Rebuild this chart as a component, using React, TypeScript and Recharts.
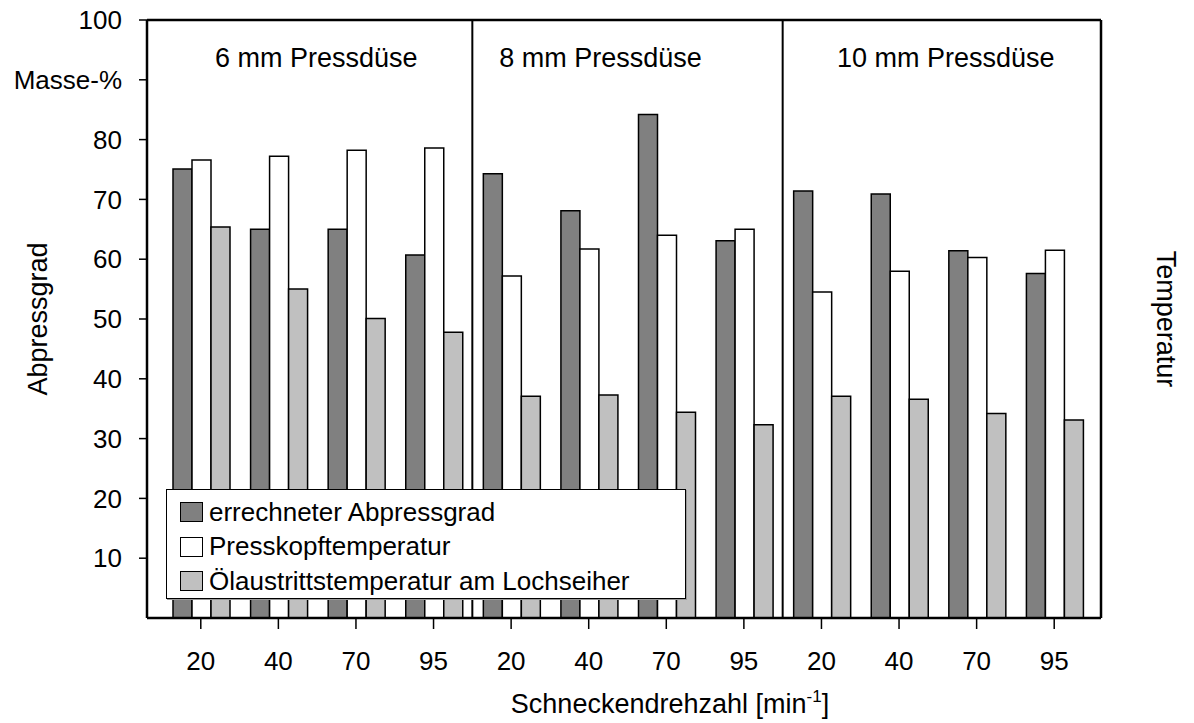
import {
    BarChart, Bar, XAxis, YAxis, Legend, ReferenceLine, ReferenceArea, Label
} from 'recharts';

const FONT = '"Liberation Sans", Arial, Helvetica, sans-serif';

const speeds = ['20', '40', '70', '95'];
const nozzles = ['6 mm Pressdüse', '8 mm Pressdüse', '10 mm Pressdüse'];

// errechneter Abpressgrad [Masse-%]
const abpressgrad = [75.1, 65.0, 65.0, 60.7, 74.3, 68.1, 84.2, 63.1, 71.4, 70.9, 61.4, 57.6];
// Presskopftemperatur [°C]
const presskopf = [76.6, 77.2, 78.2, 78.6, 57.2, 61.7, 64.0, 65.0, 54.5, 58.0, 60.3, 61.5];
// Ölaustrittstemperatur am Lochseiher [°C]
const oelaustritt = [65.4, 55.0, 50.1, 47.8, 37.1, 37.3, 34.4, 32.3, 37.1, 36.6, 34.2, 33.1];

const leftTicks = [10, 20, 30, 40, 50, 60, 70, 80, 90, 100];
const rightTicks = [0, 10, 20, 30, 40, 50, 60, 70, 80, 90, 100];

const series = [
    { key: 'abpress', name: 'errechneter Abpressgrad', fill: '#808080' },
    { key: 'kopf', name: 'Presskopftemperatur', fill: '#ffffff' },
    { key: 'oel', name: 'Ölaustrittstemperatur am Lochseiher', fill: '#c0c0c0' },
];

const catId = (n: number, s: number) => `${nozzles[n]}-${speeds[s]}`;

const data = abpressgrad.map((v, i) => ({
    id: catId(Math.floor(i / 4), i % 4),
    abpress: v,
    kopf: presskopf[i],
    oel: oelaustritt[i],
}));

// small horizontal shift of each section header
const headerDx = [-1, -27, 8];

function LegendBox() {
    return (
        <div style={{
            width: 520, height: 110, boxSizing: 'border-box', background: '#fff',
            border: '1.5px solid #000', boxShadow: '1px 1px 0 #999',
            padding: '5px 0 0 13px', fontFamily: FONT, fontSize: 26, color: '#000',
        }}>
            {series.map(s => (
                <div key={s.key} style={{ display: 'flex', alignItems: 'center', height: 34.5 }}>
                    <span style={{
                        display: 'inline-block', width: 23, height: 20, boxSizing: 'border-box',
                        background: s.fill, border: '1.5px solid #000', marginRight: 6,
                    }} />
                    <span style={{ whiteSpace: 'nowrap' }}>{s.name}</span>
                </div>
            ))}
        </div>
    );
}

export default function App() {
    const tick = { fontSize: 26, fill: '#000', fontFamily: FONT };

    return (
        <div style={{ position: 'absolute', left: 0, top: 0, background: '#fff' }}>
            <BarChart
                width={1194}
                height={723}
                data={data}
                margin={{ top: 20, right: 23, bottom: 45, left: 47 }}
                barCategoryGap={11}
                barGap={0}
            >
                <XAxis
                    xAxisId="c"
                    dataKey="id"
                    height={60}
                    padding={{ left: 15, right: 8 }}
                    interval={0}
                    tickFormatter={(_v: any, i: number) => speeds[i % 4]}
                    tick={tick}
                    tickSize={11}
                    tickMargin={23}
                    axisLine={{ stroke: '#000', strokeWidth: 2.5 }}
                    tickLine={{ stroke: '#000', strokeWidth: 1.5 }}
                >
                    <Label
                        content={(p: any) => {
                            const vb = p.viewBox;
                            return (
                                <text x={vb.x + vb.width / 2 + 46} y={vb.y + 95} textAnchor="middle"
                                    fontSize={27} fontFamily={FONT} fill="#000">
                                    Schneckendrehzahl [min<tspan dy={-11} fontSize={17}>-1</tspan><tspan dy={11}>]</tspan>
                                </text>
                            );
                        }}
                    />
                </XAxis>
                <YAxis
                    yAxisId="left"
                    width={100}
                    domain={[0, 100]}
                    ticks={leftTicks}
                    interval={0}
                    tickFormatter={(v: number) => (v === 90 ? 'Masse-%' : String(v))}
                    tick={tick}
                    tickSize={8}
                    tickMargin={17}
                    axisLine={{ stroke: '#000', strokeWidth: 2.5 }}
                    tickLine={{ stroke: '#000', strokeWidth: 1.5 }}
                >
                    <Label
                        content={(p: any) => {
                            const vb = p.viewBox;
                            const cx = vb.x + vb.width - 109;
                            const cy = vb.y + vb.height / 2;
                            return (
                                <text x={cx} y={cy} textAnchor="middle" dominantBaseline="central"
                                    transform={`rotate(-90 ${cx} ${cy})`}
                                    fontSize={27} fontFamily={FONT} fill="#000">Abpressgrad</text>
                            );
                        }}
                    />
                </YAxis>
                <YAxis
                    yAxisId="right"
                    orientation="right"
                    width={70}
                    domain={[0, 100]}
                    ticks={rightTicks}
                    interval={0}
                    tickFormatter={(v: number) => (v === 90 ? '℃' : String(v))}
                    tick={tick}
                    tickSize={8}
                    tickMargin={17}
                    axisLine={{ stroke: '#000', strokeWidth: 2.5 }}
                    tickLine={{ stroke: '#000', strokeWidth: 1.5 }}
                >
                    <Label
                        content={(p: any) => {
                            const vb = p.viewBox;
                            const cx = vb.x + 65;
                            const cy = vb.y + vb.height / 2;
                            return (
                                <text x={cx} y={cy} textAnchor="middle" dominantBaseline="central"
                                    transform={`rotate(90 ${cx} ${cy})`}
                                    fontSize={27} fontFamily={FONT} fill="#000">Temperatur</text>
                            );
                        }}
                    />
                </YAxis>

                {series.map(s => (
                    <Bar
                        key={s.key}
                        xAxisId="c"
                        yAxisId="left"
                        dataKey={s.key}
                        name={s.name}
                        fill={s.fill}
                        stroke="#000"
                        strokeWidth={1.5}
                        isAnimationActive={false}
                    />
                ))}

                {nozzles.map((n, i) => (
                    <ReferenceArea
                        key={n}
                        xAxisId="c"
                        yAxisId="left"
                        x1={catId(i, 0)}
                        x2={catId(i, 3)}
                        fill="none"
                        stroke="none"
                        label={(p: any) => {
                            const vb = p.viewBox;
                            return (
                                <text x={vb.x + vb.width / 2 + headerDx[i]} y={vb.y + 47} textAnchor="middle"
                                    fontSize={27} fontFamily={FONT} fill="#000">{n}</text>
                            );
                        }}
                    />
                ))}

                <ReferenceLine xAxisId="c" yAxisId="left" x={catId(0, 3)} position="end" stroke="#000" strokeWidth={2} />
                <ReferenceLine xAxisId="c" yAxisId="left" x={catId(1, 3)} position="end" stroke="#000" strokeWidth={2} />
                <ReferenceLine xAxisId="c" yAxisId="left" y={100} stroke="#000" strokeWidth={2.5} />

                <Legend
                    layout="vertical"
                    align="center"
                    verticalAlign="middle"
                    content={() => <LegendBox />}
                    wrapperStyle={{ left: 166, top: 489, width: 520, height: 110 }}
                />
            </BarChart>
        </div>
    );
}
